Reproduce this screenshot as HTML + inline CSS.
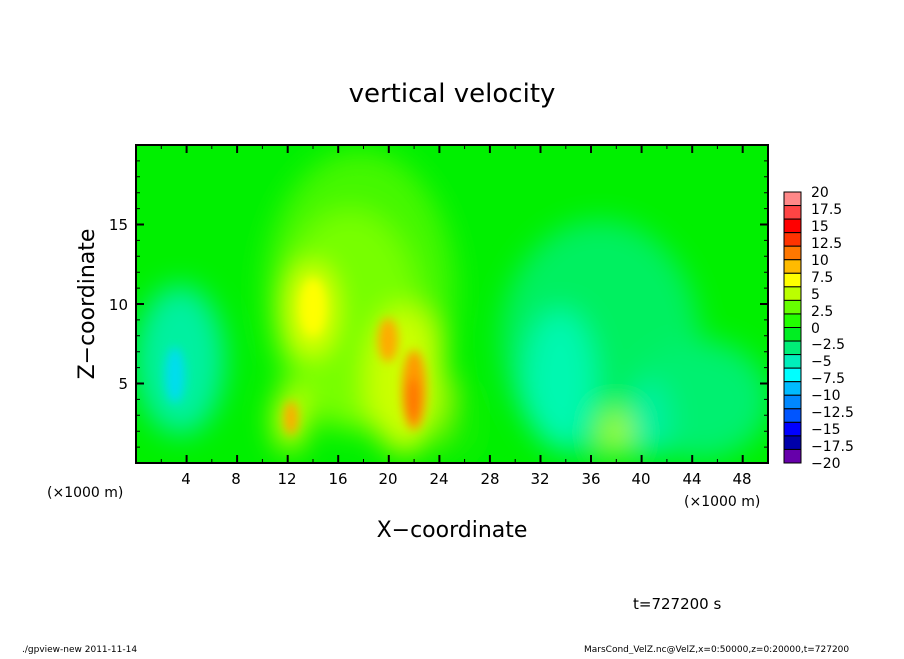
<!DOCTYPE html>
<html><head><style>
body{margin:0;background:#fff;}
svg text{font-family:"DejaVu Sans","Liberation Sans",sans-serif;fill:#000;}
</style></head><body>
<svg width="904" height="654" xmlns="http://www.w3.org/2000/svg">
<defs>
<clipPath id="c"><rect x="136" y="145" width="632" height="318"/></clipPath>
<filter id="b" x="-50%" y="-50%" width="200%" height="200%"><feGaussianBlur stdDeviation="14"/></filter>
<filter id="b2" x="-50%" y="-50%" width="200%" height="200%"><feGaussianBlur stdDeviation="5"/></filter>
</defs>
<g clip-path="url(#c)">
<rect x="136" y="145" width="632" height="318" fill="#00f000"/>
<g filter="url(#b)">
<ellipse cx="360" cy="290" rx="95" ry="140" fill="#44f800"/>
<ellipse cx="350" cy="320" rx="70" ry="110" fill="#77ff00"/>
<ellipse cx="600" cy="340" rx="100" ry="120" fill="#00f060"/>
<ellipse cx="700" cy="400" rx="70" ry="60" fill="#00f070"/>
<ellipse cx="180" cy="360" rx="45" ry="75" fill="#00f0a0"/>
<ellipse cx="560" cy="380" rx="35" ry="70" fill="#00f8b0"/>
<ellipse cx="650" cy="420" rx="20" ry="40" fill="#00f0a0"/>
<ellipse cx="312" cy="310" rx="22" ry="45" fill="#eeff00"/>
<ellipse cx="405" cy="380" rx="40" ry="75" fill="#ccff00"/>
<ellipse cx="616" cy="432" rx="14" ry="20" fill="#aaff00"/>
<ellipse cx="290" cy="420" rx="16" ry="32" fill="#ddff00"/>
<ellipse cx="460" cy="420" rx="15" ry="40" fill="#22f000"/>
</g>
<g filter="url(#b2)">
<ellipse cx="175" cy="375" rx="10" ry="28" fill="#00ddee"/>
<ellipse cx="313" cy="307" rx="12" ry="28" fill="#ffff00"/>
<ellipse cx="291" cy="418" rx="7" ry="17" fill="#ffaa00"/>
<ellipse cx="388" cy="340" rx="10" ry="22" fill="#ffaa00"/>
<ellipse cx="414" cy="390" rx="12" ry="40" fill="#ff9900"/>
<ellipse cx="413" cy="400" rx="7" ry="22" fill="#ff7700"/>
</g>
</g>
<rect x="136" y="145" width="632" height="318" fill="none" stroke="#000" stroke-width="2"/>
<g stroke="#000" stroke-width="2">
<path d="M186.6 463v-8M237.1 463v-8M287.7 463v-8M338.2 463v-8M388.8 463v-8M439.4 463v-8M489.9 463v-8M540.5 463v-8M591 463v-8M641.6 463v-8M692.2 463v-8M742.7 463v-8
M186.6 145v8M237.1 145v8M287.7 145v8M338.2 145v8M388.8 145v8M439.4 145v8M489.9 145v8M540.5 145v8M591 145v8M641.6 145v8M692.2 145v8M742.7 145v8
M136 383.5h8M136 304h8M136 224.5h8M768 383.5h-8M768 304h-8M768 224.5h-8"/>
</g>
<g stroke="#000" stroke-width="1">
<path d="M161.3 463v-4M211.8 463v-4M262.4 463v-4M313 463v-4M363.5 463v-4M414.1 463v-4M464.6 463v-4M515.2 463v-4M565.8 463v-4M616.3 463v-4M666.9 463v-4M717.4 463v-4
M161.3 145v4M211.8 145v4M262.4 145v4M313 145v4M363.5 145v4M414.1 145v4M464.6 145v4M515.2 145v4M565.8 145v4M616.3 145v4M666.9 145v4M717.4 145v4
M136 447.1h4M136 431.2h4M136 415.3h4M136 399.4h4M136 367.6h4M136 351.7h4M136 335.8h4M136 319.9h4M136 288.1h4M136 272.2h4M136 256.3h4M136 240.4h4M136 208.6h4M136 192.7h4M136 176.8h4M136 160.9h4
M768 447.1h-4M768 431.2h-4M768 415.3h-4M768 399.4h-4M768 367.6h-4M768 351.7h-4M768 335.8h-4M768 319.9h-4M768 288.1h-4M768 272.2h-4M768 256.3h-4M768 240.4h-4M768 208.6h-4M768 192.7h-4M768 176.8h-4M768 160.9h-4"/>
</g>
<g font-size="15" text-anchor="middle">
<text x="186" y="484">4</text><text x="236" y="484">8</text><text x="287" y="484">12</text><text x="338" y="484">16</text><text x="388" y="484">20</text><text x="439" y="484">24</text><text x="490" y="484">28</text><text x="540" y="484">32</text><text x="591" y="484">36</text><text x="641" y="484">40</text><text x="692" y="484">44</text><text x="742" y="484">48</text>
</g>
<g font-size="15" text-anchor="end">
<text x="128" y="389">5</text><text x="128" y="310">10</text><text x="128" y="230">15</text>
</g>
<text x="47" y="497" font-size="14">(×1000 m)</text>
<text x="684" y="506" font-size="14">(×1000 m)</text>
<text x="452" y="102" font-size="26" text-anchor="middle">vertical velocity</text>
<text x="452" y="537" font-size="22" text-anchor="middle">X−coordinate</text>
<text transform="translate(94,304) rotate(-90)" font-size="22" text-anchor="middle">Z−coordinate</text>
<text x="633" y="609" font-size="15">t=727200 s</text>
<text x="22" y="652" font-size="9">./gpview-new   2011-11-14</text>
<text x="584" y="652" font-size="9">MarsCond_VelZ.nc@VelZ,x=0:50000,z=0:20000,t=727200</text>
<g stroke="#000" stroke-width="1">
<rect x="784" y="192" width="17" height="13.55" fill="#ff8888"/>
<rect x="784" y="205.55" width="17" height="13.55" fill="#ff4444"/>
<rect x="784" y="219.1" width="17" height="13.55" fill="#ff0000"/>
<rect x="784" y="232.65" width="17" height="13.55" fill="#ff3300"/>
<rect x="784" y="246.2" width="17" height="13.55" fill="#ff7700"/>
<rect x="784" y="259.75" width="17" height="13.55" fill="#ffbb00"/>
<rect x="784" y="273.3" width="17" height="13.55" fill="#ffff00"/>
<rect x="784" y="286.85" width="17" height="13.55" fill="#bbff00"/>
<rect x="784" y="300.4" width="17" height="13.55" fill="#66ff00"/>
<rect x="784" y="313.95" width="17" height="13.55" fill="#22ff00"/>
<rect x="784" y="327.5" width="17" height="13.55" fill="#00ee22"/>
<rect x="784" y="341.05" width="17" height="13.55" fill="#00ee77"/>
<rect x="784" y="354.6" width="17" height="13.55" fill="#00eebb"/>
<rect x="784" y="368.15" width="17" height="13.55" fill="#00ffff"/>
<rect x="784" y="381.7" width="17" height="13.55" fill="#00bbff"/>
<rect x="784" y="395.25" width="17" height="13.55" fill="#0088ff"/>
<rect x="784" y="408.8" width="17" height="13.55" fill="#0055ff"/>
<rect x="784" y="422.35" width="17" height="13.55" fill="#0000ff"/>
<rect x="784" y="435.9" width="17" height="13.55" fill="#0000aa"/>
<rect x="784" y="449.45" width="17" height="13.55" fill="#6600aa"/>
</g>
<g font-size="14">
<text x="811" y="197">20</text><text x="811" y="214">17.5</text><text x="811" y="231">15</text><text x="811" y="248">12.5</text><text x="811" y="265">10</text><text x="811" y="282">7.5</text><text x="811" y="299">5</text><text x="811" y="316">2.5</text><text x="811" y="333">0</text><text x="811" y="349">−2.5</text><text x="811" y="366">−5</text><text x="811" y="383">−7.5</text><text x="811" y="400">−10</text><text x="811" y="417">−12.5</text><text x="811" y="434">−15</text><text x="811" y="451">−17.5</text><text x="811" y="468">−20</text>
</g>
</svg>
</body></html>
